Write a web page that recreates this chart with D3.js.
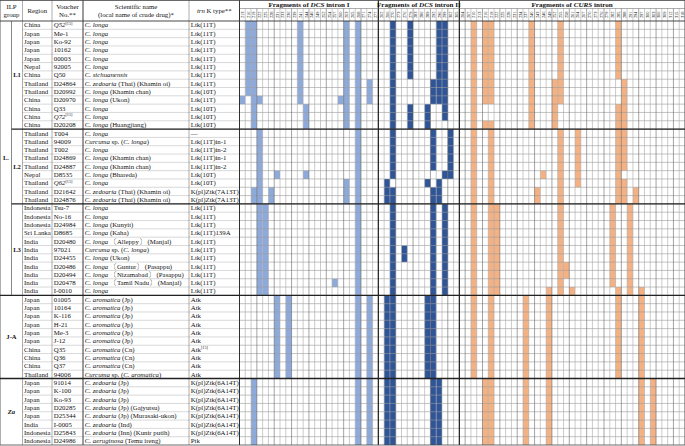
<!DOCTYPE html>
<html>
<head>
<meta charset="utf-8">
<script src="https://cdn.jsdelivr.net/npm/d3@7"></script>
<style>
body { margin: 0; background: #fff; }
text { font-family: "Liberation Serif", "Times New Roman", serif; }
</style>
</head>
<body>
<script>
// ---- data ----
const regions = [
  "China","Japan","Japan","Japan","Japan","Nepal","China","Thailand","Thailand","China","China","China","China",
  "Thailand","Thailand","Thailand","Thailand","Thailand","Nepal","Thailand","Thailand","Thailand",
  "Indonesia","Indonesia","Indonesia","Sri Lanka","India","India","India","India","India","India","India",
  "Japan","Japan","Japan","Japan","Japan","Japan","China","China","China","Thailand",
  "Japan","Japan","Japan","Japan","Japan","India","Indonesia","Indonesia"
];
const vouchers = [
  "_Q52_^[15]","Me-1","Ko-92","10162","00003","92005","Q50","D24864","D20992","D20970","Q33","_Q72_^[15]","D20208",
  "T004","94009","T002","D24869","D24887","D8535","_Q62_^[15]","D21642","D24876",
  "Tsu-7","No-16","D24984","D8685","D20480","97021","D24455","D20486","D20494","D20478","I-0010",
  "01005","10164","K-116","H-21","Me-3","J-12","Q35","Q36","Q37","94006",
  "91014","K-100","Ko-93","D20285","D25344","I-0005","D25843","D24986"
];
const sciNames = [
  "_C. longa_","_C. longa_","_C. longa_","_C. longa_","_C. longa_","_C. longa_","_C. sichuanensis_",
  "_C. zedoaria_ (Thai) (Khamin oi)","_C. longa_ (Khamin chan)","_C. longa_ (Ukon)","_C. longa_","_C. longa_",
  "_C. longa_ (Huangjiang)",
  "_C. longa_","_Curcuma_ sp. (_C. longa_)","_C. longa_","_C. longa_ (Khamin chan)","_C. longa_ (Khamin chan)",
  "_C. longa_ (Bhareda)","_C. longa_","_C. zedoaria_ (Thai) (Khamin oi)","_C. zedoaria_ (Thai) (Khamin oi)",
  "_C. longa_","_C. longa_","_C. longa_ (Kunyit)","_C. longa_ (Kaha)","_C. longa_ 〔Alleppy〕 (Manjal)",
  "_Curcuma_ sp. (_C. longa_)","_C. longa_ (Ukon)","_C. longa_ 〔Guntur〕 (Pasappu)",
  "_C. longa_ 〔Nizamabad〕 (Pasappu)","_C. longa_ 〔Tamil Nadu〕 (Manjal)","_C. longa_",
  "_C. aromatica_ (Jp)","_C. aromatica_ (Jp)","_C. aromatica_ (Jp)","_C. aromatica_ (Jp)","_C. aromatica_ (Jp)",
  "_C. aromatica_ (Jp)","_C. aromatica_ (Cn)","_C. aromatica_ (Cn)","_C. aromatica_ (Cn)",
  "_Curcuma_ sp. (_C. aromatica_)",
  "_C. zedoaria_ (Jp)","_C. zedoaria_ (Jp)","_C. zedoaria_ (Jp)","_C. zedoaria_ (Jp) (Gajyutsu)",
  "_C. zedoaria_ (Jp) (Murasaki-ukon)","_C. zedoaria_ (Ind)","_C. zedoaria_ (Inn) (Kunir putih)",
  "_C. aeruginosa_ (Temu ireng)"
];
const trnkTypes = [
  "Ltk(11T)","Ltk(11T)","Ltk(11T)","Ltk(11T)","Ltk(11T)","Ltk(11T)","Ltk(11T)","Ltk(11T)","Ltk(10T)","Ltk(11T)",
  "Ltk(10T)","Ltk(10T)","Ltk(10T)",
  "—","Ltk(11T)in-1","Ltk(11T)in-2","Ltk(11T)in-1","Ltk(11T)in-2","Ltk(10T)","Ltk(10T)","K(pl)Ztk(7A13T)",
  "K(pl)Ztk(7A13T)",
  "Ltk(11T)","Ltk(11T)","Ltk(11T)","Ltk(11T)139A","Ltk(11T)","Ltk(11T)","Ltk(11T)","Ltk(11T)","Ltk(11T)",
  "Ltk(11T)","Ltk(11T)",
  "Atk","Atk","Atk","Atk","Atk","Atk","Atk^[15]","Atk","Atk","Atk",
  "K(pl)Ztk(6A14T)","K(pl)Ztk(6A14T)","K(pl)Ztk(6A14T)","K(pl)Ztk(6A14T)","K(pl)Ztk(6A14T)",
  "K(pl)Ztk(6A14T)","K(pl)Ztk(6A14T)","Ptk"
];

// ILP groups (row index ranges)
const subGroups = [
  { name: "L1", first: 0, last: 12, parent: "L" },
  { name: "L2", first: 13, last: 21, parent: "L" },
  { name: "L3", first: 22, last: 32, parent: "L" },
  { name: "J-A", first: 33, last: 42, parent: null },
  { name: "_Za_", first: 43, last: 50, parent: null }
];
const parentGroups = [{ name: "L", first: 0, last: 32 }];

// fragment sizes (column header labels)
const dcs1Sizes = [213,216,219,222,225,228,231,233,236,239,241,244,246,249,252,254,257,260,263,265,268,271,274,277];
const dcs2Sizes = [262,266,270,273,276,279,283,286,289,292,296,299,302,305];
const cursSizes = [204,207,210,213,216,219,222,225,228,231,234,237,240,243,246,249,252,255,258,261,
                   264,267,270,273,276,279,282,285,288,291,294,297,300,303,306,309,312,315,318];

// presence of fragments: [column, [[firstRow,lastRow], ...]]
const dcs1Fill = [
  [0, [[9, 9]]], [1, [[0, 8]]], [2, [[0, 12], [20, 21], [43, 50]]], [3, [[9, 9], [13, 32]]],
  [4, [[22, 32]]], [5, [[20, 21]]], [6, [[18, 18], [33, 42]]], [8, [[33, 42]]], [10, [[0, 9]]],
  [11, [[10, 12], [18, 18]]], [16, [[31, 31]]], [17, [[9, 9]]], [18, [[0, 12], [19, 21]]],
  [20, [[0, 50]]], [22, [[7, 9], [33, 50]]]
];
const dcs2Fill = [
  [1, [[19, 21], [33, 50]]], [2, [[0, 18], [20, 50]]], [4, [[27, 28]]], [5, [[0, 6], [10, 12]]],
  [8, [[10, 12], [19, 19], [33, 42]]], [9, [[7, 9], [13, 17], [20, 50]]], [10, [[0, 9], [19, 21], [43, 50]]],
  [11, [[0, 11], [18, 18], [22, 32]]], [12, [[13, 18]]]
];
const cursFill = [
  [2, [[0, 42]]], [4, [[0, 9], [12, 12], [43, 50]]], [5, [[0, 9], [12, 50]]], [6, [[22, 32]]],
  [11, [[33, 50]]], [12, [[0, 12]]], [13, [[20, 21]]], [14, [[18, 18]]], [15, [[32, 50]]],
  [16, [[7, 12]]], [17, [[0, 9], [13, 32]]], [18, [[29, 30]]], [19, [[32, 32]]], [20, [[13, 19]]],
  [26, [[22, 31]]], [27, [[0, 6], [10, 21], [32, 42]]], [28, [[7, 17], [19, 21]]], [29, [[22, 32]]],
  [30, [[20, 21]]], [31, [[32, 50]]], [33, [[43, 50]]]
];

const sections = [
  { key: "d1", title: ["Fragments of ", "_DCS_", " intron I"], sizes: dcs1Sizes, fill: dcs1Fill, color: "#8eaadb" },
  { key: "d2", title: ["Fragments of ", "_DCS_", " intron II"], sizes: dcs2Sizes, fill: dcs2Fill, color: "#2f5597" },
  { key: "cu", title: ["Fragments of ", "_CURS_", " intron"], sizes: cursSizes, fill: cursFill, color: "#f4b183" }
];

// ---- layout ----
const W = 685, H = 446;
const headTop = 0, headBottom = 21, bodyBottom = 445;
const gridLeft = 239.5, gridRight = 685;
const colEdges = [0.5, 11.5, 22.5, 52, 83, 189, gridLeft];

const svg = d3.select("body").append("svg").attr("width", W).attr("height", H);

const nRows = regions.length;
const y = d3.scaleBand().domain(d3.range(nRows)).range([headBottom, bodyBottom]);

const colKeys = [];
sections.forEach(s => s.sizes.forEach((v, i) => colKeys.push(s.key + i)));
const x = d3.scaleBand().domain(colKeys).range([gridLeft, gridRight]);

// rich text: _italic_ and ^superscript
function rich(sel, str, size) {
  let sup = null;
  if (str.includes("^")) { [str, sup] = str.split("^"); }
  str.split("_").forEach((part, i) => {
    if (!part) return;
    sel.append("tspan").attr("font-style", i % 2 ? "italic" : "normal").text(part);
  });
  if (sup) {
    sel.append("tspan").attr("font-size", size * 0.6).attr("dy", -2.5).text(sup);
  }
}

// ---- fills ----
const cells = [];
sections.forEach(s => {
  s.fill.forEach(([c, ranges]) => {
    ranges.forEach(([a, b]) => cells.push({ key: s.key + c, a, b, color: s.color }));
  });
});
svg.append("g").selectAll("rect").data(cells).join("rect")
  .attr("x", d => x(d.key))
  .attr("y", d => y(d.a))
  .attr("width", x.bandwidth())
  .attr("height", d => y(d.b) + y.bandwidth() - y(d.a))
  .attr("fill", d => d.color);

// ---- grid lines ----
const grid = svg.append("g");
// row lines in the fragment grid
grid.selectAll(".hr").data(d3.range(1, nRows)).join("line")
  .attr("x1", gridLeft).attr("x2", gridRight)
  .attr("y1", d => y(d)).attr("y2", d => y(d))
  .attr("stroke", "#9a9a9a").attr("stroke-width", 0.6);
// dotted row lines in the left table
grid.selectAll(".hd").data(d3.range(1, nRows)).join("line")
  .attr("x1", colEdges[2]).attr("x2", gridLeft)
  .attr("y1", d => y(d)).attr("y2", d => y(d))
  .attr("stroke", "#666").attr("stroke-width", 0.5).attr("stroke-dasharray", "1,1");
// column lines in the grid
grid.selectAll(".vc").data(colKeys).join("line")
  .attr("x1", d => x(d)).attr("x2", d => x(d))
  .attr("y1", 8.5).attr("y2", bodyBottom)
  .attr("stroke", (d, i) => i % 3 === 0 ? "#666" : "#a8a8a8").attr("stroke-width", 0.6);
grid.append("line").attr("x1", gridRight - 0.5).attr("x2", gridRight - 0.5)
  .attr("y1", 0).attr("y2", bodyBottom).attr("stroke", "#666").attr("stroke-width", 0.6);

// vertical lines in the left table
colEdges.forEach((cx, i) => {
  if (i === 1) return;
  grid.append("line").attr("x1", cx).attr("x2", cx).attr("y1", headTop).attr("y2", bodyBottom)
    .attr("stroke", (i === 4 || i === 6) ? "#222" : "#777").attr("stroke-width", (i === 4 || i === 6) ? 0.9 : 0.6);
});
parentGroups.forEach(g => {
  grid.append("line").attr("x1", colEdges[1]).attr("x2", colEdges[1])
    .attr("y1", y(g.first)).attr("y2", y(g.last) + y.bandwidth())
    .attr("stroke", "#555").attr("stroke-width", 0.7);
});

// section separators
sections.slice(1).forEach(s => {
  grid.append("line").attr("x1", x(s.key + 0)).attr("x2", x(s.key + 0))
    .attr("y1", headTop).attr("y2", bodyBottom).attr("stroke", "#222").attr("stroke-width", 1.2);
});

// horizontal frame lines
grid.append("line").attr("x1", 0).attr("x2", W).attr("y1", 0.5).attr("y2", 0.5)
  .attr("stroke", "#444").attr("stroke-width", 0.8);
grid.append("line").attr("x1", gridLeft).attr("x2", W).attr("y1", 8.5).attr("y2", 8.5)
  .attr("stroke", "#777").attr("stroke-width", 0.6);
grid.append("line").attr("x1", 0).attr("x2", W).attr("y1", headBottom).attr("y2", headBottom)
  .attr("stroke", "#333").attr("stroke-width", 0.9);
subGroups.slice(1).forEach(g => {
  const inL = g.parent === "L";
  grid.append("line").attr("x1", inL ? colEdges[1] : 0).attr("x2", W)
    .attr("y1", y(g.first)).attr("y2", y(g.first))
    .attr("stroke", "#222").attr("stroke-width", 1.3);
});
grid.append("line").attr("x1", 0).attr("x2", W).attr("y1", bodyBottom).attr("y2", bodyBottom)
  .attr("stroke", "#444").attr("stroke-width", 0.8);

// ---- header text ----
const fs = 6.8;
const head = svg.append("g").attr("font-size", fs).attr("text-anchor", "middle").attr("fill", "#111");
function headCell(cx, lines) {
  const y0 = lines.length === 1 ? 13 : 8.5;
  lines.forEach((l, i) => {
    const t = head.append("text").attr("x", cx).attr("y", y0 + i * 8.2);
    rich(t, l, fs);
  });
}
headCell((colEdges[0] + colEdges[2]) / 2, ["ILP", "group"]);
headCell((colEdges[2] + colEdges[3]) / 2, ["Region"]);
headCell((colEdges[3] + colEdges[4]) / 2, ["Voucher", "No.**"]);
headCell((colEdges[4] + colEdges[5]) / 2, ["Scientific name", "(local name of crude drug)*"]);
headCell((colEdges[5] + colEdges[6]) / 2, ["_trn_ K type**"]);

sections.forEach(s => {
  const x0 = x(s.key + 0), x1 = x(s.key + (s.sizes.length - 1)) + x.bandwidth();
  const t = head.append("text").attr("x", (x0 + x1) / 2).attr("y", 6.8)
    .attr("font-weight", "bold").attr("font-size", 7.1);
  rich(t, s.title.join(""), 7.1);
  head.selectAll(null).data(s.sizes).join("text")
    .attr("transform", (d, i) => `translate(${x(s.key + i) + x.bandwidth() / 2 + 1.5},14.8) rotate(-90)`)
    .attr("font-size", 4.4)
    .text(d => d);
});

// ---- body text ----
const body = svg.append("g").attr("font-size", fs).attr("fill", "#111");
const ty = i => y(i) + y.bandwidth() / 2 + 2.3;
const textCols = [
  { arr: regions, x: colEdges[2] + 1.6 },
  { arr: vouchers, x: colEdges[3] + 1.8 },
  { arr: sciNames, x: colEdges[4] + 1.8 },
  { arr: trnkTypes, x: colEdges[5] + 1.8 }
];
textCols.forEach(c => {
  c.arr.forEach((v, i) => {
    const t = body.append("text").attr("x", c.x).attr("y", ty(i));
    rich(t, v, fs);
  });
});

// group labels
const gl = svg.append("g").attr("font-size", 6.6).attr("font-weight", "bold")
  .attr("text-anchor", "middle").attr("fill", "#111");
parentGroups.forEach(g => {
  gl.append("text").attr("x", (colEdges[0] + colEdges[1]) / 2)
    .attr("y", (y(g.first) + y(g.last) + y.bandwidth()) / 2 + 2.3).text(g.name + ".");
});
subGroups.forEach(g => {
  const cx = g.parent ? (colEdges[1] + colEdges[2]) / 2 : (colEdges[0] + colEdges[2]) / 2;
  const t = gl.append("text").attr("x", cx)
    .attr("y", (y(g.first) + y(g.last) + y.bandwidth()) / 2 + 2.3);
  rich(t, g.name, 6.6);
});
</script>
</body>
</html>
